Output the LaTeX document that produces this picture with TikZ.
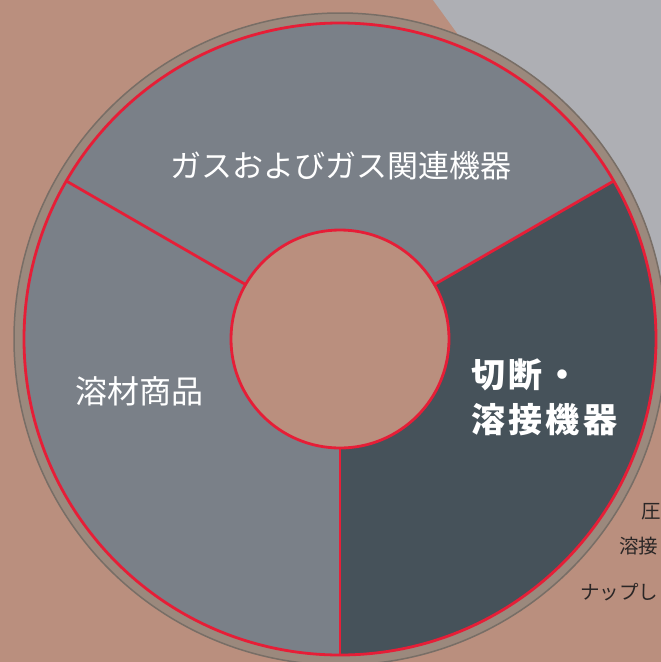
\documentclass[tikz,border=0pt]{standalone}
\usepackage{fontspec}
\newfontfamily\jp{Noto Sans CJK JP}
\definecolor{bgbrown}{HTML}{BA8F7E}
\definecolor{bggrey}{HTML}{AEAFB4}
\definecolor{seclight}{HTML}{7A8088}
\definecolor{secdark}{HTML}{46525A}
\definecolor{rimred}{HTML}{E61E37}
\definecolor{ringfill}{HTML}{9B897D}
\definecolor{ringedge}{HTML}{786E66}
\definecolor{sidetext}{HTML}{2A2626}
\tikzset{
  seclabel/.style={text=white, inner sep=0pt, font=\jp\fontsize{31}{36}\selectfont},
  sidelabel/.style={text=sidetext, inner sep=0pt, anchor=west, font=\jp\fontsize{19.5}{22}\selectfont},
  redline/.style={draw=rimred, line width=2.8pt}
}
\begin{document}
\begin{tikzpicture}[x=1pt,y=-1pt]
\useasboundingbox (0,0) rectangle (661,662);
\clip (0,0) rectangle (661,662);
% background
\fill[bgbrown] (0,0) rectangle (661,662);
\fill[bggrey] (433,0) -- (661,0) -- (661,360) -- (560,175) -- cycle;
% side texts
\node[sidelabel] (t1) at (641,512) {圧};
\node[sidelabel] (t2) at (619,546) {溶接};
\node[sidelabel] (t3) at (580,592) {ナップし};
% ring
\coordinate (c) at (340,339);
\fill[ringfill, draw=ringedge, line width=1.5pt] (c) circle[radius=326];
% sectors
\fill[seclight] (c) -- ++(-150:316) arc[start angle=-150, end angle=-30, radius=316] -- cycle;
\fill[seclight] (c) -- ++(90:316) arc[start angle=90, end angle=210, radius=316] -- cycle;
\fill[secdark] (c) -- ++(-30:316) arc[start angle=-30, end angle=90, radius=316] -- cycle;
% red rim and dividers
\draw[redline] (c) circle[radius=316];
\draw[redline] (c) -- ++(-30:316);
\draw[redline] (c) -- ++(-150:316);
\draw[redline] (c) -- ++(90:316);
% inner circle
\fill[bgbrown, redline] (c) circle[radius=109];
% labels
\node[seclabel] (top) at (341,166) {ガスおよびガス関連機器};
\node[seclabel, font=\jp\fontsize{32}{36}\selectfont] (left) at (139,391) {溶材商品};
\node[seclabel, anchor=west, align=left, font=\jp\bfseries\addfontfeatures{LetterSpace=10}\fontsize{34}{45}\selectfont] (right) at (471,397) {切断・\\溶接機器};
\end{tikzpicture}
\end{document}
